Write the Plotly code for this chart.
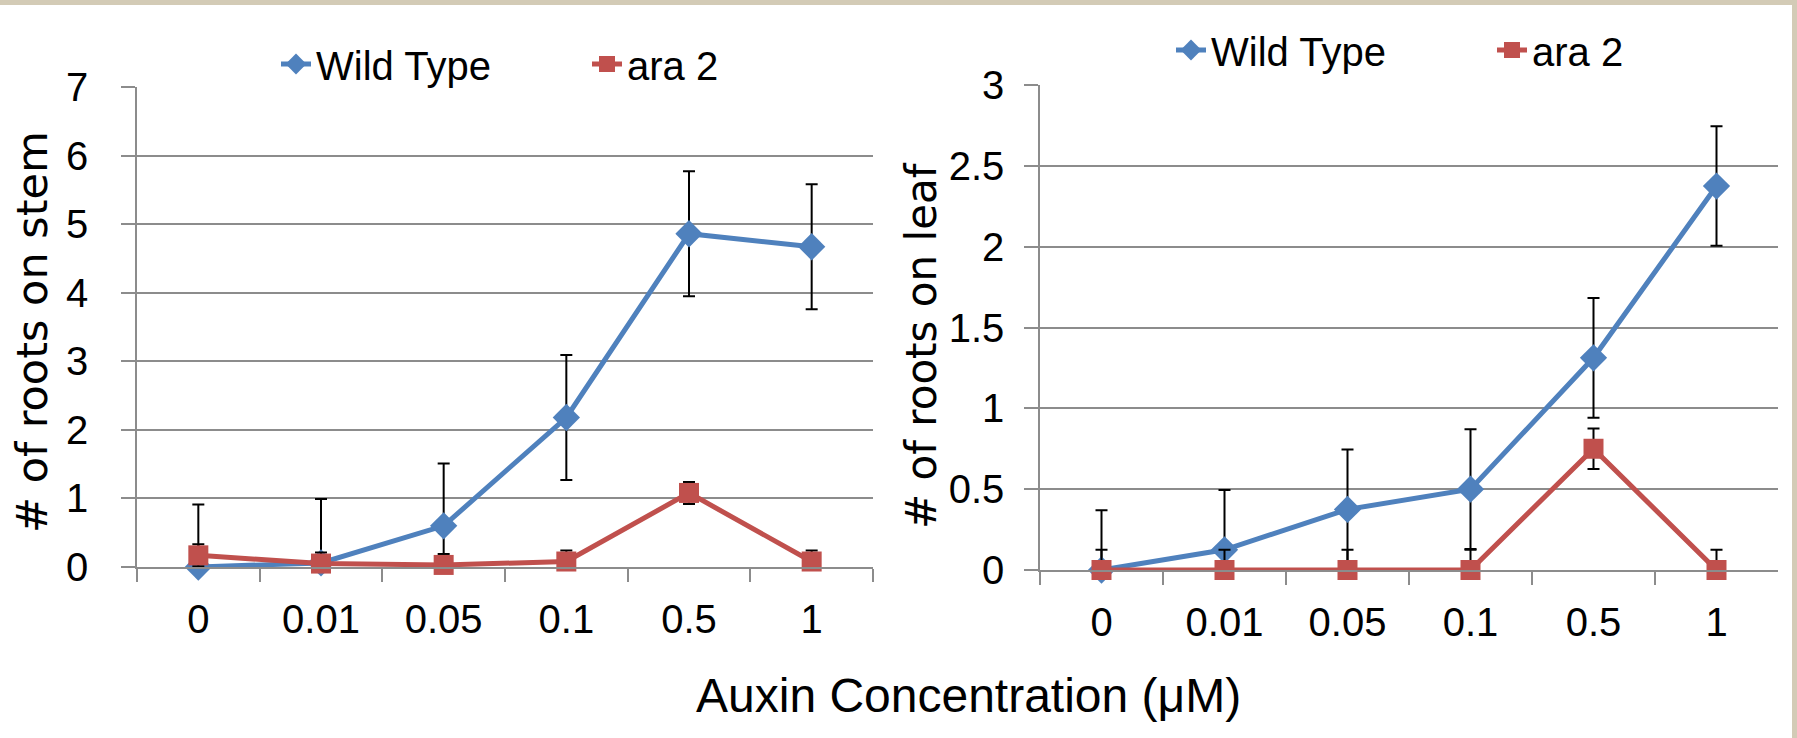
import plotly.graph_objects as go

categories = ["0", "0.01", "0.05", "0.1", "0.5", "1"]

stem_wt = [0.0, 0.06, 0.6, 2.18, 4.86, 4.67]
stem_wt_err = [0.91, 0.93, 0.91, 0.91, 0.91, 0.91]
stem_ara = [0.17, 0.05, 0.03, 0.08, 1.08, 0.08]
stem_ara_err = [0.16, 0.16, 0.16, 0.16, 0.16, 0.16]

leaf_wt = [0.0, 0.125, 0.375, 0.5, 1.3125, 2.375]
leaf_wt_err = [0.37, 0.37, 0.37, 0.37, 0.37, 0.37]
leaf_ara = [0.0, 0.0, 0.0, 0.0, 0.75, 0.0]
leaf_ara_err = [0.125, 0.125, 0.125, 0.125, 0.125, 0.125]

BLUE = "#4F81BD"
RED = "#C0504D"
GRID = "#8C8C8C"
NARROW = "Liberation Sans, Arial, sans-serif"
WIDE = "DejaVu Sans, Verdana, sans-serif"

W, H = 1797, 738

fig = go.Figure()


def add_panel(xa, ya, leg, wt, wt_err, ara, ara_err):
    fig.add_trace(go.Scatter(
        x=categories, y=wt, mode="markers", showlegend=False,
        marker=dict(size=1, opacity=0),
        error_y=dict(type="data", array=wt_err, visible=True,
                     color="black", thickness=2, width=6),
        xaxis=xa, yaxis=ya, cliponaxis=True, hoverinfo="skip"))
    fig.add_trace(go.Scatter(
        x=categories, y=wt, mode="lines+markers", name="Wild Type",
        line=dict(color=BLUE, width=5),
        marker=dict(symbol="diamond", size=21, color=BLUE),
        xaxis=xa, yaxis=ya, legend=leg, cliponaxis=False))
    fig.add_trace(go.Scatter(
        x=categories, y=ara, mode="markers", showlegend=False,
        marker=dict(size=1, opacity=0),
        error_y=dict(type="data", array=ara_err, visible=True,
                     color="black", thickness=2, width=6),
        xaxis=xa, yaxis=ya, cliponaxis=True, hoverinfo="skip"))
    fig.add_trace(go.Scatter(
        x=categories, y=ara, mode="lines+markers", name="ara 2",
        line=dict(color=RED, width=5),
        marker=dict(symbol="square", size=20, color=RED),
        xaxis=xa, yaxis=ya, legend=leg, cliponaxis=False))


add_panel("x", "y", "legend", stem_wt, stem_wt_err, stem_ara, stem_ara_err)
add_panel("x2", "y2", "legend2", leaf_wt, leaf_wt_err, leaf_ara, leaf_ara_err)

xcommon = dict(type="category", range=[-0.5, 5.5], tickson="boundaries",
               ticks="outside", ticklen=13, tickcolor=GRID, tickwidth=1.5,
               showline=True, linecolor=GRID, linewidth=2, showgrid=False,
               zeroline=False, tickfont=dict(family=NARROW, size=40, color="black"),
               ticklabelstandoff=16)
ycommon = dict(showgrid=True, gridcolor=GRID, gridwidth=2, showline=True,
               linecolor=GRID, linewidth=1.5, ticks="outside", ticklen=14,
               tickcolor=GRID, tickwidth=2, zeroline=False,
               tickfont=dict(family=NARROW, size=40, color="black"))

fig.update_layout(
    width=W, height=H,
    margin=dict(l=0, r=0, t=0, b=0, autoexpand=False),
    plot_bgcolor="white", paper_bgcolor="white",
    xaxis=dict(domain=[137 / W, 873 / W], anchor="y", **xcommon),
    yaxis=dict(domain=[1 - 567 / H, 1 - 87 / H], anchor="x", range=[0, 7],
               dtick=1, ticklabelstandoff=25, **ycommon),
    xaxis2=dict(domain=[1040 / W, 1778 / W], anchor="y2", **xcommon),
    yaxis2=dict(domain=[1 - 570 / H, 1 - 85 / H], anchor="x2", range=[0, 3],
                dtick=0.5, ticklabelstandoff=12, **ycommon),
    legend=dict(orientation="h", x=276 / W, xanchor="left", y=1 - 64 / H,
                yanchor="middle", font=dict(family=NARROW, size=40, color="black"),
                entrywidth=266, bgcolor="rgba(0,0,0,0)"),
    legend2=dict(orientation="h", x=1171 / W, xanchor="left", y=1 - 50 / H,
                 yanchor="middle", font=dict(family=NARROW, size=40, color="black"),
                 entrywidth=276, bgcolor="rgba(0,0,0,0)"),
    showlegend=True,
    shapes=[
        dict(type="rect", xref="paper", yref="paper", x0=0, x1=1,
             y0=1 - 5 / H, y1=1, fillcolor="#D3CBB6", line=dict(width=0)),
        dict(type="rect", xref="paper", yref="paper", x0=1 - 5 / W, x1=1,
             y0=0, y1=1, fillcolor="#D3CBB6", line=dict(width=0)),
    ],
    annotations=[
        dict(text="# of roots on stem", xref="paper", yref="paper",
             x=32 / W, y=1 - 332 / H, textangle=-90, showarrow=False,
             font=dict(family=WIDE, size=43, color="black"),
             xanchor="center", yanchor="middle"),
        dict(text="# of roots on leaf", xref="paper", yref="paper",
             x=921 / W, y=1 - 345 / H, textangle=-90, showarrow=False,
             font=dict(family=WIDE, size=42, color="black"),
             xanchor="center", yanchor="middle"),
        dict(text="Auxin Concentration (μM)", xref="paper", yref="paper",
             x=968 / W, y=1 - 695 / H, showarrow=False,
             font=dict(family=NARROW, size=48, color="black"),
             xanchor="center", yanchor="middle"),
    ],
)

fig.write_html(
    "out.html",
    config={"displayModeBar": False},
    post_script="document.body.style.margin='0';document.body.style.overflow='hidden';",
)
